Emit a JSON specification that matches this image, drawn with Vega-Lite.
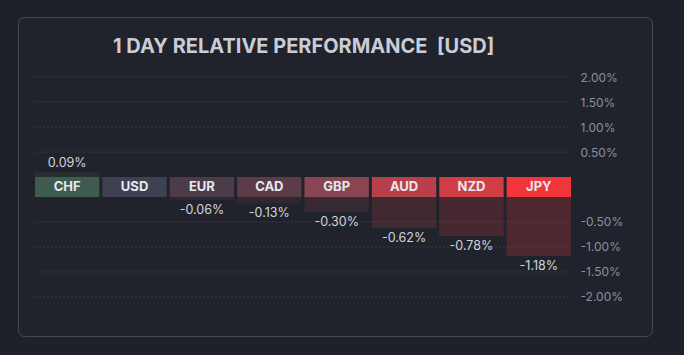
{
  "$schema": "https://vega.github.io/schema/vega-lite/v6.json",
  "width": 634,
  "height": 319,
  "autosize": "none",
  "padding": {"left": 18, "top": 17, "right": 32, "bottom": 19},
  "background": "#1e2129",
  "title": {
    "text": "1 DAY RELATIVE PERFORMANCE\u00a0 [USD]",
    "anchor": "start",
    "frame": "group",
    "orient": "top",
    "offset": -40,
    "dx": 95,
    "font": "Inter",
    "fontSize": 20,
    "fontWeight": "bold",
    "color": "#c9cdd6"
  },
  "config": {
    "view": {"fill": "#20232c", "stroke": "#454a56", "cornerRadius": 6},
    "font": "Inter",
    "locale": {"number": {"decimal": ".", "thousands": ",", "grouping": [3], "currency": ["$", ""], "minus": "-"}}
  },
  "datasets": {
    "fx": [
      {"ccy": "CHF", "value": 0.0009},
      {"ccy": "USD", "value": 0.0},
      {"ccy": "EUR", "value": -0.0006},
      {"ccy": "CAD", "value": -0.0013},
      {"ccy": "GBP", "value": -0.0030},
      {"ccy": "AUD", "value": -0.0062},
      {"ccy": "NZD", "value": -0.0078},
      {"ccy": "JPY", "value": -0.0118}
    ],
    "grid": [
      {"v": -0.02}, {"v": -0.015}, {"v": -0.01}, {"v": -0.005},
      {"v": 0.005}, {"v": 0.01}, {"v": 0.015}, {"v": 0.02}
    ]
  },
  "data": {"name": "fx"},
  "layer": [
    {
      "data": {"name": "grid"},
      "mark": {"type": "rule", "color": "#383c48", "strokeDash": [2, 2], "strokeWidth": 1},
      "encoding": {
        "y": {
          "field": "v",
          "type": "quantitative",
          "scale": {"domain": [-0.03, -0.00001, 0.00001, 0.03], "range": [330, 180, 160, 10], "zero": false, "nice": false},
          "axis": {
            "orient": "right",
            "values": [-0.02, -0.015, -0.01, -0.005, 0.005, 0.01, 0.015, 0.02],
            "format": ".2%",
            "grid": false,
            "domain": false,
            "ticks": false,
            "labelPadding": 0,
            "offset": -72,
            "labelFont": "Inter",
            "labelFontSize": 12,
            "labelColor": "#8b909c",
            "title": null
          }
        },
        "x": {
          "datum": "CHF",
          "type": "nominal",
          "bandPosition": 0,
          "scale": {"domain": ["CHF", "USD", "EUR", "CAD", "GBP", "AUD", "NZD", "JPY"], "range": [17, 553], "paddingInner": 0.045, "paddingOuter": 0},
          "axis": null
        },
        "x2": {"datum": "JPY", "bandPosition": 1}
      }
    },
    {
      "transform": [{"filter": "datum.value < 0"}],
      "mark": {"type": "bar", "opacity": 0.22},
      "encoding": {
        "x": {"field": "ccy", "type": "nominal", "axis": null},
        "y": {"field": "value", "type": "quantitative"},
        "y2": {"datum": -0.00001},
        "color": {
          "field": "ccy",
          "type": "nominal",
          "scale": {"domain": ["CHF", "USD", "EUR", "CAD", "GBP", "AUD", "NZD", "JPY"], "range": ["#3e5b4f", "#3e4152", "#4d3b4a", "#5c3c48", "#8a4553", "#b8404a", "#d03d45", "#f2353b"]},
          "legend": null
        }
      }
    },
    {
      "transform": [{"filter": "datum.value > 0"}],
      "mark": {"type": "bar", "opacity": 0.22},
      "encoding": {
        "x": {"field": "ccy", "type": "nominal", "axis": null},
        "y": {"field": "value", "type": "quantitative"},
        "y2": {"datum": 0.00001},
        "color": {"field": "ccy", "type": "nominal", "legend": null}
      }
    },
    {
      "mark": {"type": "bar"},
      "encoding": {
        "x": {"field": "ccy", "type": "nominal", "axis": null},
        "y": {"datum": 0.00001, "type": "quantitative"},
        "y2": {"datum": -0.00001},
        "color": {"field": "ccy", "type": "nominal", "legend": null}
      }
    },
    {
      "mark": {"type": "text", "font": "Inter", "fontSize": 13, "fontWeight": "bold", "color": "#e6e8ee", "align": "center", "baseline": "middle"},
      "encoding": {
        "x": {"field": "ccy", "type": "nominal", "axis": null},
        "y": {"datum": 0, "type": "quantitative"},
        "text": {"field": "ccy"}
      }
    },
    {
      "transform": [{"filter": "datum.value < 0"}],
      "mark": {"type": "text", "font": "Inter", "fontSize": 12.5, "color": "#d2d5dc", "align": "center", "baseline": "middle", "dy": 10},
      "encoding": {
        "x": {"field": "ccy", "type": "nominal", "axis": null},
        "y": {"field": "value", "type": "quantitative"},
        "text": {"field": "value", "type": "quantitative", "format": ".2%"}
      }
    },
    {
      "transform": [{"filter": "datum.value > 0"}],
      "mark": {"type": "text", "font": "Inter", "fontSize": 12.5, "color": "#d2d5dc", "align": "center", "baseline": "middle", "dy": -10},
      "encoding": {
        "x": {"field": "ccy", "type": "nominal", "axis": null},
        "y": {"field": "value", "type": "quantitative"},
        "text": {"field": "value", "type": "quantitative", "format": ".2%"}
      }
    }
  ]
}
